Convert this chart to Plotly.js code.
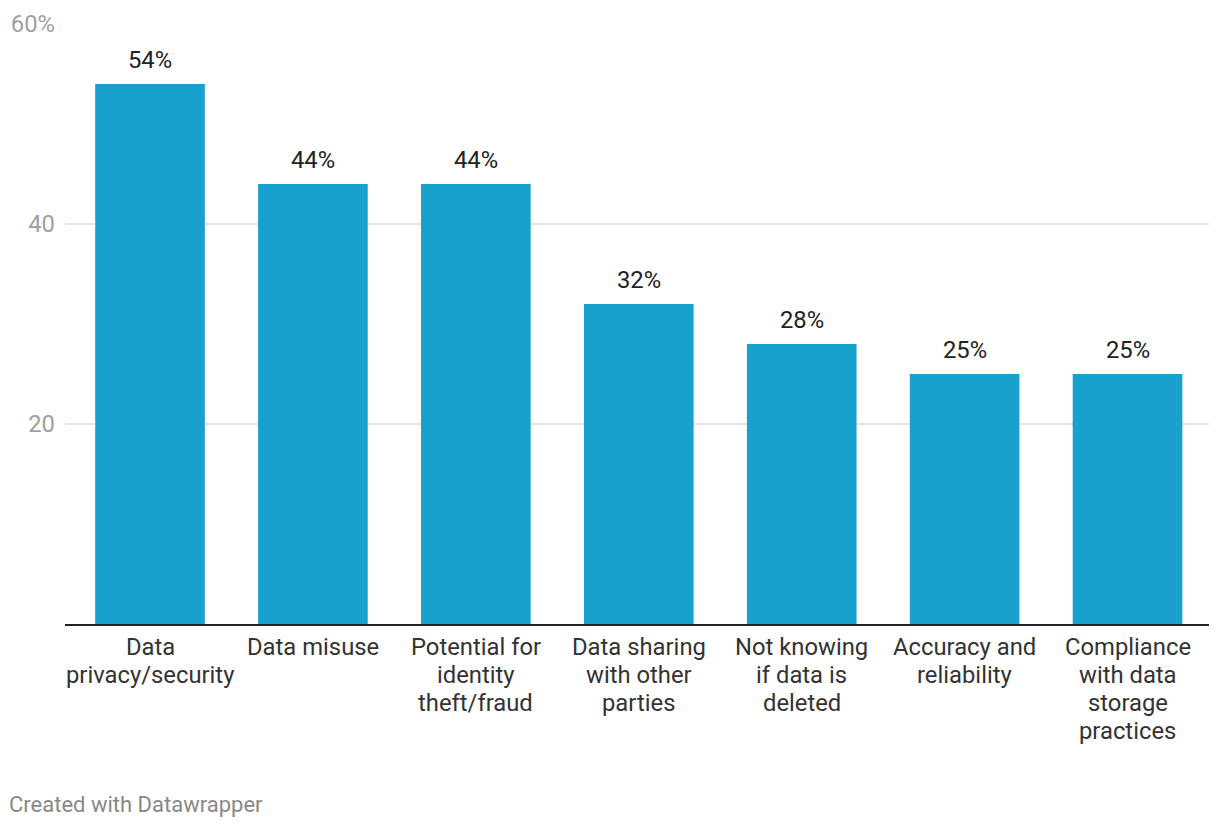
<!DOCTYPE html>
<html>
<head>
<meta charset="utf-8">
<script src="https://cdn.plot.ly/plotly-3.0.1.min.js"></script>
<style>html,body{margin:0;padding:0;background:#fff;}#chart{width:1220px;height:828px;}</style>
</head>
<body>
<div id="chart"></div>
<script>
const categories = [
  "Data privacy/security",
  "Data misuse",
  "Potential for identity theft/fraud",
  "Data sharing with other parties",
  "Not knowing if data is deleted",
  "Accuracy and reliability",
  "Compliance with data storage practices"
];
const categoryLines = [
  ["Data", "privacy/security"],
  ["Data misuse"],
  ["Potential for", "identity", "theft/fraud"],
  ["Data sharing", "with other", "parties"],
  ["Not knowing", "if data is", "deleted"],
  ["Accuracy and", "reliability"],
  ["Compliance", "with data", "storage", "practices"]
];
const values = [54, 44, 44, 32, 28, 25, 25];
const valueLabels = ["54%", "44%", "44%", "32%", "28%", "25%", "25%"];
const yTickVals = [20, 40, 60];
const yTickText = ["20", "40", "60%"];

const FONT = "Roboto, 'Noto Sans', sans-serif";
const FS = 23.8;

const trace = {
  type: "bar",
  x: categories,
  y: values,
  marker: {color: "#18a1cd"},
  hoverinfo: "none"
};

const annotations = categories.map((c, i) => ({
  x: c, y: values[i], xref: "x", yref: "y",
  text: valueLabels[i], showarrow: false,
  yanchor: "bottom", yshift: 9, borderpad: 0,
  font: {family: FONT, size: FS, color: "#222"}
}));
categories.forEach((c, i) => {
  categoryLines[i].forEach((line, k) => {
    annotations.push({
      x: c, y: 0, xref: "x", yref: "paper",
      text: line, showarrow: false,
      yanchor: "top", yshift: -8 - 28 * k, borderpad: 0,
      font: {family: FONT, size: FS, color: "#333"}
    });
  });
});
annotations.push({
  xref: "paper", yref: "paper", x: -65/1144, y: -180/600,
  xanchor: "left", yanchor: "middle", xshift: 8, borderpad: 0,
  text: "Created with Datawrapper", showarrow: false,
  font: {family: FONT, size: 22, color: "#888"}
});

const layout = {
  width: 1220, height: 828,
  margin: {l: 65, r: 11, t: 24, b: 204},
  paper_bgcolor: "#fff", plot_bgcolor: "#fff",
  bargap: 0.327,
  showlegend: false,
  font: {family: FONT},
  xaxis: {
    type: "category",
    showgrid: false,
    showline: true, linecolor: "#222", linewidth: 2,
    ticks: "", showticklabels: false,
    fixedrange: true
  },
  yaxis: {
    range: [0, 60],
    tickvals: yTickVals, ticktext: yTickText,
    showgrid: true, gridcolor: "#e5e5e5", gridwidth: 1.6,
    zeroline: false, showline: false, ticks: "",
    tickfont: {family: FONT, size: FS, color: "#a0a0a0"},
    ticklabelstandoff: 9,
    fixedrange: true
  },
  annotations: annotations
};

Plotly.newPlot("chart", [trace], layout, {displayModeBar: false, staticPlot: true});
</script>
</body>
</html>
